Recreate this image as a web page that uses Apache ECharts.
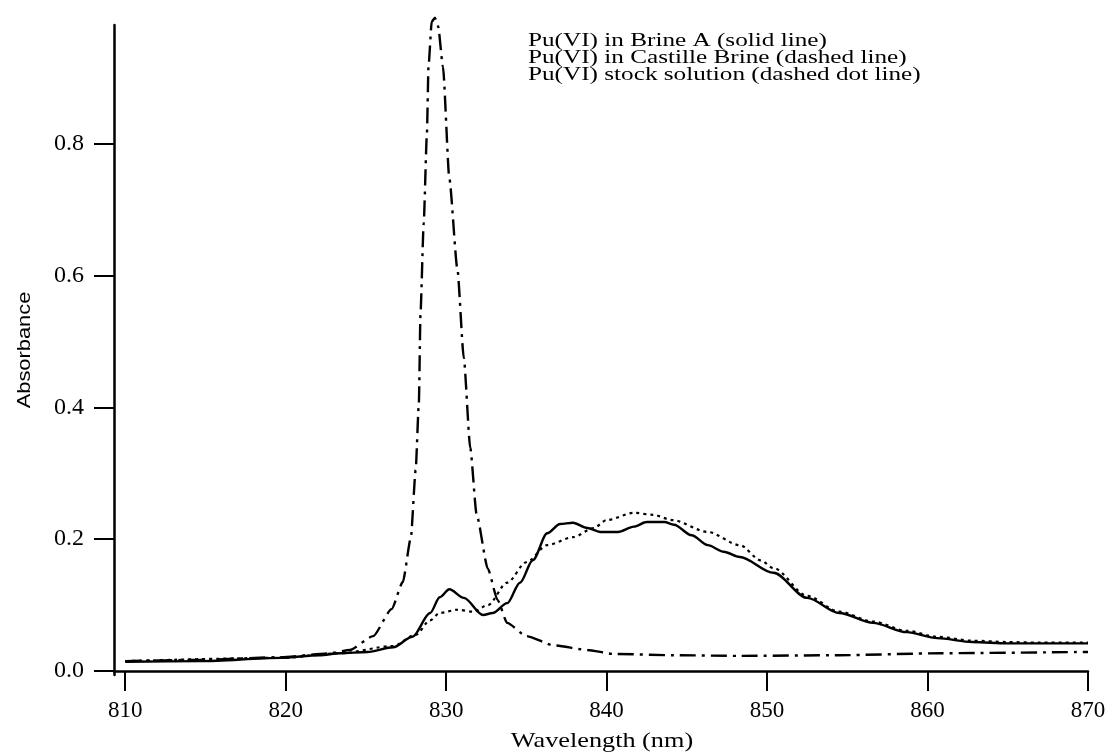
<!DOCTYPE html>
<html>
<head>
<meta charset="utf-8">
<script src="https://cdn.jsdelivr.net/npm/echarts@6/dist/echarts.min.js"></script>
<style>html,body{margin:0;padding:0;background:#fff;}#c{width:1112px;height:754px;}</style>
</head>
<body>
<div id="c"></div>
<script>
// Tick labels
const xTicks = [810, 820, 830, 840, 850, 860, 870];
const yTicks = [0.0, 0.2, 0.4, 0.6, 0.8];

// Pu(VI) in Brine A (solid line)
const brineA_wl = [810, 814.7, 819.7, 822.1, 823.4, 825.1, 826.7, 827.9, 829.0, 829.6, 830.2, 831.1, 832.3, 832.9, 833.8, 834.6, 835.4, 836.3, 837.1, 837.9, 838.8, 839.6, 840.7, 841.7, 842.5, 843.6, 844.2, 845.3, 846.3, 847.3, 848.3, 850.4, 852.5, 854.5, 856.6, 858.7, 860.6, 862.8, 865.0, 867.0, 870];
const brineA_abs = [0.014, 0.015, 0.020, 0.024, 0.027, 0.029, 0.036, 0.052, 0.088, 0.112, 0.124, 0.111, 0.085, 0.088, 0.103, 0.134, 0.168, 0.209, 0.223, 0.225, 0.217, 0.211, 0.211, 0.219, 0.226, 0.226, 0.222, 0.206, 0.191, 0.181, 0.173, 0.149, 0.111, 0.088, 0.073, 0.059, 0.050, 0.044, 0.042, 0.042, 0.042];

// Pu(VI) in Castille Brine (dashed line)
const castille_wl = [810, 819.7, 823.4, 826.7, 828.1, 829.0, 829.6, 830.7, 831.7, 832.6, 833.8, 835.0, 836.3, 837.9, 839.2, 840.0, 841.7, 842.9, 844.1, 846.3, 848.3, 849.6, 850.4, 852.5, 854.5, 856.6, 858.7, 860.6, 862.8, 865, 867, 870];
const castille_abs = [0.015, 0.020, 0.027, 0.038, 0.055, 0.077, 0.088, 0.093, 0.090, 0.100, 0.134, 0.165, 0.191, 0.203, 0.217, 0.229, 0.240, 0.237, 0.229, 0.211, 0.191, 0.168, 0.156, 0.114, 0.090, 0.075, 0.061, 0.052, 0.046, 0.044, 0.043, 0.043];

// Pu(VI) stock solution (dashed dot line)
const stock_wl = [810, 814.7, 819.7, 822.8, 824.0, 825.45, 826.6, 827.3, 827.8, 828.1, 828.3, 828.4, 828.6, 828.8, 828.9, 829.1, 829.3, 829.5, 829.8, 830.2, 830.7, 831.1, 831.5, 831.9, 832.6, 833.2, 833.8, 835.0, 836.7, 838.8, 840.4, 844.2, 848.3, 854.5, 860.8, 870];
const stock_abs = [0.015, 0.017, 0.021, 0.027, 0.032, 0.053, 0.094, 0.135, 0.202, 0.305, 0.407, 0.542, 0.679, 0.815, 0.917, 0.985, 0.991, 0.978, 0.917, 0.747, 0.610, 0.475, 0.339, 0.237, 0.155, 0.108, 0.073, 0.053, 0.039, 0.032, 0.026, 0.024, 0.023, 0.024, 0.027, 0.029];

const legendLines = [
  'Pu(VI) in Brine A (solid line)',
  'Pu(VI) in Castille Brine (dashed line)',
  'Pu(VI) stock solution (dashed dot line)'
];
const xTitle = 'Wavelength (nm)';
const yTitle = 'Absorbance';

const pairs = (xs, ys) => xs.map((x, i) => [x, ys[i]]);
const serif = 'Liberation Serif';

const graphics = legendLines.map((t, i) => ({
  type: 'text', x: 528, y: 41 + i * 17, scaleX: 1.4,
  style: { text: t, font: '18px "Liberation Serif", serif', fill: '#000', textAlign: 'left', textVerticalAlign: 'middle' }
}));
graphics.push({
  type: 'text', x: 602, y: 741, scaleX: 1.25,
  style: { text: xTitle, font: '21px "Liberation Serif", serif', fill: '#000', textAlign: 'center', textVerticalAlign: 'middle' }
});
graphics.push({
  type: 'text', x: 25, y: 350, rotation: Math.PI / 2, scaleX: 1.15,
  style: { text: yTitle, font: '19px "Liberation Sans Narrow", "Liberation Sans", sans-serif', fill: '#000', textAlign: 'center', textVerticalAlign: 'middle' }
});

const chart = echarts.init(document.getElementById('c'));
chart.setOption({
  backgroundColor: '#ffffff',
  animation: false,
  grid: { left: 114, right: 24, top: 25, bottom: 79, containLabel: false },
  xAxis: {
    type: 'value', min: 809.3, max: 870,
    axisLine: { show: true, lineStyle: { color: '#000', width: 2.5 } },
    axisTick: { show: true, customValues: xTicks, length: 20, lineStyle: { color: '#000', width: 2 } },
    axisLabel: { customValues: xTicks, fontFamily: serif, fontSize: 23, color: '#000', margin: 24 },
    splitLine: { show: false }
  },
  yAxis: {
    type: 'value', min: -0.006, max: 0.98,
    axisLine: { show: true, lineStyle: { color: '#000', width: 2.5 } },
    axisTick: { show: true, customValues: yTicks, length: 20, lineStyle: { color: '#000', width: 2 } },
    axisLabel: { customValues: yTicks, formatter: v => v.toFixed(1), fontFamily: serif, fontSize: 24, color: '#000', margin: 30 },
    splitLine: { show: false }
  },
  graphic: graphics,
  series: [
    {
      name: legendLines[0], type: 'line', data: pairs(brineA_wl, brineA_abs),
      showSymbol: false, smooth: 0.3, smoothMonotone: 'x', clip: false,
      lineStyle: { color: '#000', width: 2.4, type: 'solid' }
    },
    {
      name: legendLines[1], type: 'line', data: pairs(castille_wl, castille_abs),
      showSymbol: false, smooth: 0.3, smoothMonotone: 'x', clip: false,
      lineStyle: { color: '#000', width: 2.2, type: [3, 4] }
    },
    {
      name: legendLines[2], type: 'line', data: pairs(stock_wl, stock_abs),
      showSymbol: false, smooth: 0.2, smoothMonotone: 'x', clip: false,
      lineStyle: { color: '#000', width: 2.4, type: [16, 6, 3, 6] }
    }
  ]
});
</script>
</body>
</html>
